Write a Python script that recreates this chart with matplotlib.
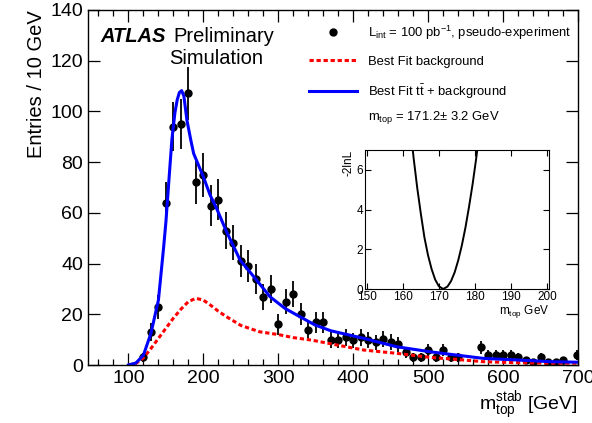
import numpy as np
import matplotlib
matplotlib.use("Agg")
import matplotlib.pyplot as plt
from matplotlib.ticker import MultipleLocator

plt.rcParams['font.family'] = ['Liberation Sans', 'DejaVu Sans']
plt.rcParams['mathtext.fontset'] = 'custom'
plt.rcParams['mathtext.rm'] = 'Liberation Sans'
plt.rcParams['mathtext.it'] = 'Liberation Sans:italic'
plt.rcParams['mathtext.bf'] = 'Liberation Sans:bold'

# pseudo-experiment, bin centres (GeV) and entries per 10 GeV
mass = [120, 130, 140, 150, 160, 170, 180, 190, 200, 210, 220, 230, 240, 250,
        260, 270, 280, 290, 300, 310, 320, 330, 340, 350, 360, 370, 380, 390,
        400, 410, 420, 430, 440, 450, 460, 470, 480, 490, 500, 510, 520, 530,
        540, 570, 580, 590, 600, 610, 620, 630, 640, 650, 660, 670, 680, 698]
entries = [3.0, 12.9, 23.0, 64.0, 93.9, 95.1, 107.1, 72.0, 75.0, 62.9, 65.2,
           52.9, 48.2, 41.1, 39.0, 34.0, 26.9, 30.0, 16.0, 25.0, 28.0, 20.1,
           13.8, 16.9, 16.9, 9.9, 9.9, 10.9, 9.7, 11.0, 9.9, 8.9, 10.1, 9.1,
           8.1, 5.0, 3.0, 3.0, 5.8, 3.0, 5.8, 3.0, 3.0, 7.0, 3.9, 3.9, 3.9,
           3.9, 3.0, 1.9, 1.0, 3.0, 1.0, 1.0, 1.9, 3.9]

# best fit signal + background
fit_x = [100, 110, 120, 130, 140, 147, 150, 154, 158, 162, 165, 168, 171, 174,
         178, 183, 187, 200, 209, 218, 231, 249, 269, 289, 309, 329, 349, 370,
         414, 458, 503, 538, 574, 618, 663, 700]
fit_y = [0, 0.8, 3.9, 12.5, 25.6, 46.6, 56.5, 72.9, 89.0, 99.5, 104.5, 107.5,
         108.2, 106.0, 96.6, 89.0, 83.4, 74.2, 67.0, 61.5, 52.5, 41.4, 34.2,
         26.9, 22.3, 19.0, 15.8, 13.5, 10.5, 7.2, 5.2, 3.9, 2.6, 2.0, 1.3, 1.1]

# best fit background
bkg_x = [100, 110, 120, 130, 140, 150, 160, 170, 180, 190, 200, 210, 220, 230,
         250, 275, 300, 320, 345, 378, 414, 458, 503, 538, 574, 618, 663, 700]
bkg_y = [0, 0.6, 2.8, 6.5, 10.5, 14.5, 18.5, 22.0, 25.0, 26.3, 25.6, 23.5,
         21.2, 19.2, 15.6, 13.1, 12.0, 10.8, 9.8, 7.9, 5.9, 4.6, 3.0, 2.2,
         1.3, 0.9, 0.7, 0.7]

# -2lnL scan (inset)
scan_m = [162.0, 163, 164, 165, 166, 167, 168, 169, 170, 171.2, 172.4, 173.4,
          174.4, 175.4, 176.4, 177.4, 178.4, 179.4, 180.4, 181.4]
scan_nll = [8.3, 6.6, 5.1, 3.8, 2.6, 1.7, 1.0, 0.47, 0.14, 0.0, 0.12, 0.4,
            0.84, 1.45, 2.2, 3.1, 4.15, 5.3, 6.6, 8.1]

fig = plt.figure(figsize=(5.92, 4.23), dpi=100)
ax = fig.add_axes([88 / 592, 58 / 423, 490 / 592, 355 / 423])

ax.errorbar(mass, entries, yerr=np.sqrt(entries), fmt='none',
            ecolor='black', elinewidth=1.3, capsize=0)
ax.plot(mass, entries, 'o', color='black', markersize=5,
        label=r'L$_{\mathrm{int}}$ = 100 pb$^{-1}$, pseudo-experiment')
ax.plot(bkg_x, bkg_y, color='red', linewidth=2.2, dashes=(1.4, 0.9),
        label='Best Fit background')
ax.plot(fit_x, fit_y, color='blue', linewidth=2.2,
        label=r'Best Fit $\mathrm{t\bar{t}}$ + background')

ax.set_xlim(46, 700)
ax.set_ylim(0, 140)
ax.xaxis.set_major_locator(MultipleLocator(100))
ax.xaxis.set_minor_locator(MultipleLocator(20))
ax.yaxis.set_major_locator(MultipleLocator(20))
ax.tick_params(which='both', direction='in', top=True, right=True, width=0.9)
ax.tick_params(which='major', length=8.5, labelsize=14, pad=3.6)
ax.tick_params(which='minor', length=4.3)
ax.tick_params(axis='y', which='minor', left=False, right=False)
for s in ax.spines.values():
    s.set_linewidth(1.0)

ax.set_ylabel('Entries / 10 GeV', fontsize=14.5, loc='top', labelpad=3)
ax.set_xlabel(r'm$_{\mathrm{top}}^{\mathrm{stab}}$ [GeV]', fontsize=14,
              loc='right', labelpad=2)

ax.text(0.0245, 0.925, 'ATLAS', transform=ax.transAxes, fontsize=14.5,
        fontweight='bold', fontstyle='italic', va='center', ha='left')
ax.text(0.1735, 0.925, 'Preliminary', transform=ax.transAxes, fontsize=14.5,
        va='center', ha='left')
ax.text(0.262, 0.863, 'Simulation', transform=ax.transAxes, fontsize=14.5,
        va='center', ha='center')

ax.legend(loc='upper left', bbox_to_anchor=(0.451, 0.962), frameon=False,
          fontsize=9.4, handlelength=3.7, handletextpad=0.8,
          labelspacing=1.08, borderpad=0, borderaxespad=0)
ax.text(0.571, 0.697, r'm$_{\mathrm{top}}$ = 171.2± 3.2 GeV',
        transform=ax.transAxes, fontsize=9.4, va='center', ha='left')

# inset: likelihood scan
axi = fig.add_axes([365 / 592, 134 / 423, 184 / 592, 139 / 423])
axi.plot(scan_m, scan_nll, color='black', linewidth=1.4)
axi.set_xlim(149.5, 200.6)
axi.set_ylim(0, 7)
axi.xaxis.set_major_locator(MultipleLocator(10))
axi.yaxis.set_major_locator(MultipleLocator(2))
axi.tick_params(direction='in', top=True, right=True, length=4,
                labelsize=8.5, pad=1.5)
axi.set_ylabel('-2lnL', fontsize=8.5, loc='top', labelpad=1)
axi.set_xlabel(r'm$_{\mathrm{top}}$ GeV', fontsize=8.5, loc='right',
               labelpad=0)

fig.savefig('out.png', dpi=100)
